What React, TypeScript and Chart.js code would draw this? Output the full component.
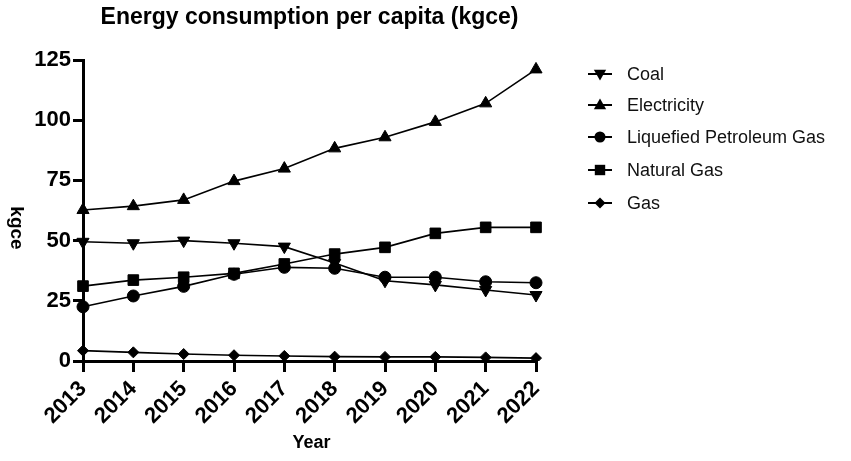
import React, { useEffect, useRef } from "react";
import { Chart, registerables } from "chart.js";

Chart.register(...registerables);

const years = ["2013", "2014", "2015", "2016", "2017", "2018", "2019", "2020", "2021", "2022"];
const coal = [49.5, 48.9, 50.0, 48.9, 47.5, 40.7, 33.3, 31.6, 29.5, 27.4];
const electricity = [62.7, 64.3, 66.9, 74.7, 79.9, 88.3, 92.9, 99.3, 107.0, 121.1];
const lpg = [22.5, 27.0, 31.0, 36.0, 38.9, 38.5, 34.8, 34.8, 32.9, 32.5];
const naturalGas = [31.1, 33.6, 34.8, 36.4, 40.3, 44.4, 47.2, 53.0, 55.5, 55.5];
const gas = [4.3, 3.6, 2.9, 2.4, 2.1, 1.8, 1.7, 1.7, 1.5, 1.2];

const seriesNames = ["Coal", "Electricity", "Liquefied Petroleum Gas", "Natural Gas", "Gas"];
const titleText = "Energy consumption per capita (kgce)";
const yTitle = "kgce";
const xTitle = "Year";

const FONT = "'Liberation Sans', Arial, Helvetica, sans-serif";

type Shape = "triangleDown" | "triangle" | "circle" | "rect" | "rectRot";

function drawMarker(ctx: CanvasRenderingContext2D, shape: Shape, x: number, y: number, r: number) {
  ctx.beginPath();
  if (shape === "triangle" || shape === "triangleDown") {
    const s = shape === "triangle" ? 1 : -1;
    ctx.moveTo(x, y - s * r);
    ctx.lineTo(x + r * 0.95, y + s * r * 0.65);
    ctx.lineTo(x - r * 0.95, y + s * r * 0.65);
    ctx.closePath();
  } else if (shape === "circle") {
    ctx.arc(x, y, r * 0.85, 0, Math.PI * 2);
  } else if (shape === "rect") {
    const h = r * 0.8;
    ctx.rect(x - h, y - h, 2 * h, 2 * h);
  } else {
    const h = r * 0.85;
    ctx.moveTo(x, y - h);
    ctx.lineTo(x + h, y);
    ctx.lineTo(x, y + h);
    ctx.lineTo(x - h, y);
    ctx.closePath();
  }
  ctx.fill();
}

const legendShapes: Shape[] = ["triangleDown", "triangle", "circle", "rect", "rectRot"];

const decorPlugin = {
  id: "decor",
  afterDraw(chart: any) {
    const ctx: CanvasRenderingContext2D = chart.ctx;
    const area = chart.chartArea;
    const cx = (area.left + area.right) / 2;
    ctx.save();
    ctx.fillStyle = "#000";
    ctx.strokeStyle = "#000";
    // title
    ctx.font = `bold 23px ${FONT}`;
    ctx.textAlign = "center";
    ctx.textBaseline = "middle";
    ctx.fillText(titleText, cx, 18);
    // x title
    ctx.font = `bold 18px ${FONT}`;
    ctx.fillText(xTitle, cx + 2, 443);
    // y title, rotated clockwise
    ctx.save();
    ctx.translate(16, 228);
    ctx.rotate(Math.PI / 2);
    ctx.font = `bold 19px ${FONT}`;
    ctx.fillText(yTitle, 0, 0);
    ctx.restore();
    // legend
    const ys = [74, 105, 137, 170, 203];
    ctx.font = `18px ${FONT}`;
    ctx.textAlign = "left";
    seriesNames.forEach((name, i) => {
      const y = ys[i];
      ctx.lineWidth = 2;
      ctx.beginPath();
      ctx.moveTo(588, y);
      ctx.lineTo(612, y);
      ctx.stroke();
      ctx.fillStyle = "#000";
      drawMarker(ctx, legendShapes[i], 600, y, 6.5);
      ctx.fillStyle = "#111";
      ctx.fillText(name, 627, y + 1);
    });
    ctx.restore();
  },
};

export default function App() {
  const ref = useRef<HTMLCanvasElement | null>(null);
  useEffect(() => {
    document.body.style.margin = "0";
    if (!ref.current) return;
    const common = {
      borderColor: "#000",
      backgroundColor: "#000",
      pointBackgroundColor: "#000",
      pointBorderColor: "#000",
      borderWidth: 1.6,
      pointBorderWidth: 1,
      tension: 0,
      fill: false,
    };
    const chart = new Chart(ref.current, {
      type: "line",
      data: {
        labels: years,
        datasets: [
          { ...common, label: seriesNames[0], data: coal, pointStyle: "triangle", pointRotation: 180, pointRadius: 7 },
          { ...common, label: seriesNames[1], data: electricity, pointStyle: "triangle", pointRadius: 7 },
          { ...common, label: seriesNames[2], data: lpg, pointStyle: "circle", pointRadius: 6 },
          { ...common, label: seriesNames[3], data: naturalGas, pointStyle: "rect", pointRadius: 7.5 },
          { ...common, label: seriesNames[4], data: gas, pointStyle: "rectRot", pointRadius: 5.5 },
        ],
      },
      options: {
        responsive: false,
        animation: false,
        devicePixelRatio: 1,
        layout: { padding: { top: 60, right: 315, left: 8, bottom: 0 } },
        plugins: {
          legend: { display: false },
          title: { display: false },
          tooltip: { enabled: false },
        },
        scales: {
          x: {
            type: "category",
            offset: false,
            grid: { display: true, drawOnChartArea: false, drawTicks: true, tickLength: 11, lineWidth: 3, color: "#000" },
            border: { display: true, width: 3, color: "#000" },
            ticks: {
              color: "#000",
              font: { family: FONT, size: 22, weight: "bold" },
              maxRotation: 45,
              minRotation: 45,
              padding: 4,
              autoSkip: false,
            },
            afterFit: (s: any) => {
              s.height = 100;
            },
          },
          y: {
            min: 0,
            max: 125,
            grid: { display: true, drawOnChartArea: false, drawTicks: true, tickLength: 10, lineWidth: 3, color: "#000" },
            border: { display: true, width: 3, color: "#000" },
            ticks: {
              stepSize: 25,
              color: "#000",
              font: { family: FONT, size: 22, weight: "bold" },
              padding: 2,
            },
            afterFit: (s: any) => {
              s.width = 75;
            },
          },
        },
      },
      plugins: [decorPlugin],
    } as any);
    return () => chart.destroy();
  }, []);
  return (
    <div style={{ width: 851, height: 461 }}>
      <canvas ref={ref} width={851} height={461} style={{ display: "block", width: 851, height: 461 }} />
    </div>
  );
}
